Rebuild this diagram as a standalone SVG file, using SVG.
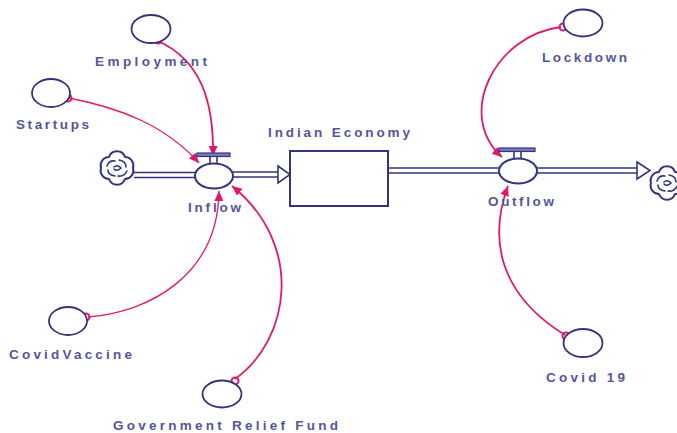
<svg xmlns="http://www.w3.org/2000/svg" width="677" height="433" viewBox="0 0 677 433">
<style>
.bg{fill:#ffffff}
.aux{fill:#ffffff;stroke:#34347c;stroke-width:1.8}
.valve{fill:#ffffff;stroke:#34347c;stroke-width:2}
.bar{fill:#7a7ab8;stroke:#34347c;stroke-width:1.2}
.pipe{stroke:#34347c;stroke-width:1.6;fill:none}
.parrow{fill:#ffffff;stroke:#34347c;stroke-width:1.6;stroke-linejoin:miter}
.stock{fill:#ffffff;stroke:#34347c;stroke-width:2}
.lbl{font-family:"Liberation Sans",Arial,sans-serif;font-size:13.5px;font-weight:bold;fill:#55559a}
.link{fill:none;stroke:#e0186c;stroke-width:1.8}
.thin{stroke-width:1.3}
.tail{fill:none;stroke:#e0186c;stroke-width:2}
.cloud{fill:#ffffff;stroke:#34347c;stroke-width:2;stroke-linejoin:round}
.swirl{fill:none;stroke:#34347c;stroke-width:1.6;stroke-linecap:round}
</style>
<defs>
<marker id="ah" markerUnits="userSpaceOnUse" markerWidth="12" markerHeight="10" refX="10" refY="4.5" orient="auto">
<path d="M0,0 L10,4.5 L0,9 z" fill="#e0186c"/>
</marker>
<g id="cloudShape">
<path class="cloud" d="M16,0 A8.5,8.5 0 0 1 8,11 A8.5,8.5 0 0 1 -8,11 A8.5,8.5 0 0 1 -16,0 A8.5,8.5 0 0 1 -8,-11 A8.5,8.5 0 0 1 8,-11 A8.5,8.5 0 0 1 16,0 z"/>
<path class="swirl" d="M-10,-2 Q-8,-8 -2,-7 M2,-8 Q9,-7 9,-1 M10,3 Q7,9 1,8 M-2,8 Q-9,7 -9,2 M-3,-1 Q0,-4 4,0 Q0,4 -3,1"/>
</g>
</defs>
<rect class="bg" x="0" y="0" width="677" height="433"/>

<g id="connectors">
<line class="pipe" x1="134" y1="172.5" x2="196" y2="172.5"/>
<line class="pipe" x1="134" y1="177.5" x2="196" y2="177.5"/>
<line class="pipe" x1="232" y1="172" x2="280" y2="172"/>
<line class="pipe" x1="232" y1="177" x2="280" y2="177"/>
<path class="parrow" d="M278,166 L290,174.5 L278,183 z"/>
<line class="pipe" x1="389" y1="168" x2="499" y2="168"/>
<line class="pipe" x1="389" y1="173" x2="499" y2="173"/>
<line class="pipe" x1="537" y1="168" x2="639" y2="168"/>
<line class="pipe" x1="537" y1="173" x2="639" y2="173"/>
<path class="parrow" d="M637,162 L650,170.5 L637,179 z"/>
<path class="link" d="M158,41 C200,60 214,100 213,156" marker-end="url(#ah)"/>
<path class="link thin" d="M69,98 C120,108 165,125 199,163" marker-end="url(#ah)"/>
<path class="link thin" d="M88,317 C150,312 218,275 219,191" marker-end="url(#ah)"/>
<path class="link" d="M235,379 C290,340 305,245 232,186" marker-end="url(#ah)"/>
<path class="link" d="M561,27 C495,35 455,115 502,157" marker-end="url(#ah)"/>
<path class="link" d="M565,335 C500,295 488,240 508,186" marker-end="url(#ah)"/>
<circle class="tail" cx="158" cy="40" r="3.5"/>
<circle class="tail" cx="68" cy="98" r="3.5"/>
<circle class="tail" cx="86" cy="317" r="3.5"/>
<circle class="tail" cx="235" cy="381" r="3.5"/>
<circle class="tail" cx="563" cy="27" r="3.5"/>
<circle class="tail" cx="566" cy="336" r="3.5"/>
</g>

<g id="source-cloud">
<use href="#cloudShape" transform="translate(117,168)"/>
</g>
<g id="sink-cloud">
<use href="#cloudShape" transform="translate(667,183)"/>
</g>

<g id="indian-economy">
<rect class="stock" x="290" y="151" width="98" height="55"/>
<text class="lbl" x="268" y="137" textLength="142" lengthAdjust="spacing">Indian Economy</text>
</g>

<g id="inflow">
<rect class="bar" x="197" y="153" width="33" height="3.5"/>
<line class="pipe" x1="210" y1="156" x2="210" y2="164"/>
<line class="pipe" x1="217" y1="156" x2="217" y2="164"/>
<ellipse class="valve" cx="214" cy="176" rx="19" ry="12.5"/>
<text class="lbl" x="188" y="212" textLength="53" lengthAdjust="spacing">Inflow</text>
</g>

<g id="outflow">
<rect class="bar" x="499" y="148" width="36" height="3.5"/>
<line class="pipe" x1="514" y1="151" x2="514" y2="159"/>
<line class="pipe" x1="521" y1="151" x2="521" y2="159"/>
<ellipse class="valve" cx="518" cy="171" rx="19" ry="12.5"/>
<text class="lbl" x="488" y="206" textLength="66" lengthAdjust="spacing">Outflow</text>
</g>

<g id="employment">
<ellipse class="aux" cx="151" cy="29" rx="19.5" ry="14"/>
<text class="lbl" x="95" y="66" textLength="112" lengthAdjust="spacing">Employment</text>
</g>

<g id="startups">
<ellipse class="aux" cx="51" cy="93" rx="19" ry="14"/>
<text class="lbl" x="16" y="129" textLength="73" lengthAdjust="spacing">Startups</text>
</g>

<g id="covidvaccine">
<ellipse class="aux" cx="68" cy="321" rx="19" ry="14"/>
<text class="lbl" x="9" y="359" textLength="123" lengthAdjust="spacing">CovidVaccine</text>
</g>

<g id="government-relief-fund">
<ellipse class="aux" cx="222" cy="394" rx="19.5" ry="13.5"/>
<text class="lbl" x="113" y="430" textLength="225" lengthAdjust="spacing">Government Relief Fund</text>
</g>

<g id="lockdown">
<ellipse class="aux" cx="583" cy="23" rx="19.5" ry="13.5"/>
<text class="lbl" x="542" y="62" textLength="85" lengthAdjust="spacing">Lockdown</text>
</g>

<g id="covid19">
<ellipse class="aux" cx="583" cy="343" rx="19.5" ry="14"/>
<text class="lbl" x="546" y="382" textLength="79" lengthAdjust="spacing">Covid 19</text>
</g>
</svg>
